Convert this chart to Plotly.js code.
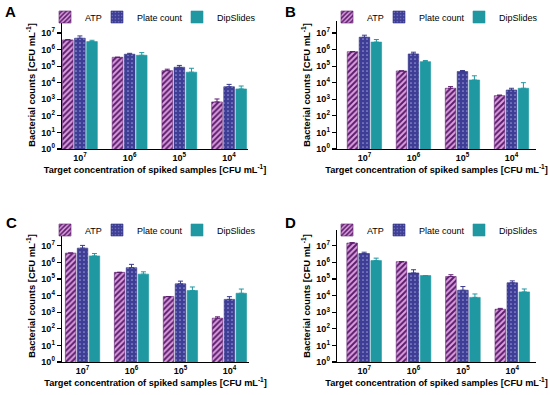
<!DOCTYPE html>
<html>
<head>
<meta charset="utf-8">
<script src="https://cdn.plot.ly/plotly-3.0.1.min.js"></script>
<style>html,body{margin:0;padding:0;background:#fff;}</style>
</head>
<body>
<div id="chart" style="width:550px;height:395px;"></div>
<script>
const categories = ['10<sup>7</sup>', '10<sup>6</sup>', '10<sup>5</sup>', '10<sup>4</sup>'];
const seriesNames = ['ATP', 'Plate count', 'DipSlides'];
const yTickVals = [1, 10, 100, 1e3, 1e4, 1e5, 1e6, 1e7];
const yTickText = ['10<sup>0</sup>', '10<sup>1</sup>', '10<sup>2</sup>', '10<sup>3</sup>', '10<sup>4</sup>', '10<sup>5</sup>', '10<sup>6</sup>', '10<sup>7</sup>'];
const panelLabels = ['A', 'B', 'C', 'D'];

// Panel A
const atpA = [3.8e6, 3.4e5, 5.3e4, 690];
const atpErrA = [0.2e6, 0, 1.2e4, 350];
const plateA = [4.8e6, 5.2e5, 8.5e4, 5.7e3];
const plateErrA = [1.8e6, 0.7e5, 2.5e4, 2.2e3];
const dipA = [3.0e6, 4.5e5, 4.3e4, 4.2e3];
const dipErrA = [0.6e6, 2.0e5, 3.1e4, 2.1e3];
// Panel B
const atpB = [7.4e5, 5.1e4, 4.6e3, 1.65e3];
const atpErrB = [0, 0, 1.2e3, 0.15e3];
const plateB = [5.5e6, 5.4e5, 4.7e4, 3.6e3];
const plateErrB = [1.8e6, 1.5e5, 0.7e4, 1.0e3];
const dipB = [2.8e6, 1.86e5, 1.45e4, 4.6e3];
const dipErrB = [1.2e6, 0.3e5, 1.15e4, 5.4e3];
// Panel C
const atpC = [3.6e6, 2.5e5, 8.7e3, 435];
const atpErrC = [0.1e6, 0, 0, 90];
const plateC = [7.2e6, 4.8e5, 5.1e4, 5.9e3];
const plateErrC = [3.3e6, 2.8e5, 2.3e4, 2.7e3];
const dipC = [2.45e6, 1.96e5, 2.0e4, 1.38e4];
const dipErrC = [0.95e6, 0.74e5, 1.3e4, 1.1e4];
// Panel D
const atpD = [1.45e7, 1.1e6, 1.4e5, 1.5e3];
const atpErrD = [0.1e7, 0, 0.4e5, 0.2e3];
const plateD = [3.4e6, 2.3e5, 2.1e4, 5.9e4];
const plateErrD = [0.7e6, 1.3e5, 1.4e4, 1.8e4];
const dipD = [1.28e6, 1.6e5, 7.8e3, 1.66e4];
const dipErrD = [0.52e6, 0, 4.7e3, 0.84e4];

const panels = [
  {vals: [atpA, plateA, dipA], errs: [atpErrA, plateErrA, dipErrA]},
  {vals: [atpB, plateB, dipB], errs: [atpErrB, plateErrB, dipErrB]},
  {vals: [atpC, plateC, dipC], errs: [atpErrC, plateErrC, dipErrC]},
  {vals: [atpD, plateD, dipD], errs: [atpErrD, plateErrD, dipErrD]}
];

const W = 550, H = 395;
// pixel boxes [x0, x1, yTop, yBottom]
const boxes = [
  [62, 248, 21, 149],
  [337, 536, 21, 149],
  [62, 249, 230, 362],
  [337, 536, 230, 362]
];
const xRanges = [[-0.36, 3.38], [-0.56, 3.5], [-0.42, 3.4], [-0.55, 3.48]];
const yRanges = [[0, 7.72], [0, 7.72], [0, 7.95], [0, 7.95]];
// legend item anchor x (px) per panel, and legend row y (px)
const legendXs = [[45, 97, 177], [327, 379, 459], [45, 97, 177], [327, 379, 459]];
const legendYs = [17, 17, 230, 230];
const letterPos = [[3, 11.5], [283, 11.5], [4, 222], [283, 222]];

const styles = [
  {marker: {color: '#d58fd6', line: {color: '#5e1f70', width: 0.6},
            pattern: {shape: '/', fgcolor: '#5a1d6c', bgcolor: '#de9fdf', size: 4, solidity: 0.5, fillmode: 'replace'}},
   err: '#5e1f70'},
  {marker: {color: '#3f3f95', line: {color: '#2f2f80', width: 0.6},
            pattern: {shape: '.', fgcolor: '#9696d6', bgcolor: '#3e3e96', size: 4, solidity: 0.15, fillmode: 'replace'}},
   err: '#3a3a8c'},
  {marker: {color: '#1f98a2', line: {color: '#1f98a2', width: 0.6}},
   err: '#1f98a2'}
];

const data = [];
const layout = {
  width: W, height: H,
  margin: {l: 0, r: 0, t: 0, b: 0},
  paper_bgcolor: '#ffffff', plot_bgcolor: '#ffffff',
  barmode: 'group', bargap: 0.27, bargroupgap: 0.12,
  font: {family: 'Liberation Sans, Arial, sans-serif', color: '#000'},
  annotations: [], showlegend: true
};

let legendCount = 0;
panels.forEach((p, i) => {
  const sfx = i === 0 ? '' : String(i + 1);
  for (let s = 0; s < 3; s++) {
    legendCount += 1;
    const legendId = 'legend' + (legendCount === 1 ? '' : String(legendCount));
    data.push({
      type: 'bar', x: categories, y: p.vals[s], name: seriesNames[s],
      xaxis: 'x' + sfx, yaxis: 'y' + sfx, legend: legendId,
      marker: styles[s].marker,
      error_y: {type: 'data', symmetric: false, array: p.errs[s], arrayminus: p.errs[s].map(() => 0),
                color: styles[s].err, thickness: 1, width: 2.5},
      hoverinfo: 'skip'
    });
    layout[legendId] = {
      orientation: 'h', x: legendXs[i][s] / W, xanchor: 'left', y: 1 - legendYs[i] / H, yanchor: 'middle',
      font: {size: 9}, bgcolor: 'rgba(0,0,0,0)', itemwidth: 30
    };
  }
  const b = boxes[i];
  layout['xaxis' + sfx] = {
    domain: [b[0] / W, b[1] / W], anchor: 'y' + sfx, range: xRanges[i],
    showline: true, linecolor: '#000', linewidth: 1.3, ticks: '', showgrid: false, zeroline: false,
    tickfont: {size: 9, weight: 'bold'}, automargin: false,
    title: {text: 'Target concentration of spiked samples [CFU mL<sup>-1</sup>]', font: {size: 9.2, weight: 'bold'}, standoff: 2}
  };
  layout['yaxis' + sfx] = {
    domain: [1 - b[3] / H, 1 - b[2] / H], anchor: 'x' + sfx, type: 'log', range: yRanges[i],
    showline: true, linecolor: '#000', linewidth: 1.3, ticks: 'outside', ticklen: 4, tickwidth: 1.2, tickcolor: '#000',
    showgrid: false, zeroline: false, tickvals: yTickVals, ticktext: yTickText,
    tickfont: {size: 9, weight: 'bold'}, automargin: false,
    title: {text: 'Bacterial counts [CFU mL<sup>-1</sup>]', font: {size: 9.4, weight: 'bold'}, standoff: 4}
  };
  layout.annotations.push({
    text: '<b>' + panelLabels[i] + '</b>', xref: 'paper', yref: 'paper',
    x: letterPos[i][0] / W, y: 1 - letterPos[i][1] / H, xanchor: 'left', yanchor: 'middle',
    showarrow: false, font: {size: 15, family: 'Liberation Sans, Arial, sans-serif'}
  });
});

Plotly.newPlot('chart', data, layout, {staticPlot: true, displayModeBar: false});
</script>
</body>
</html>
